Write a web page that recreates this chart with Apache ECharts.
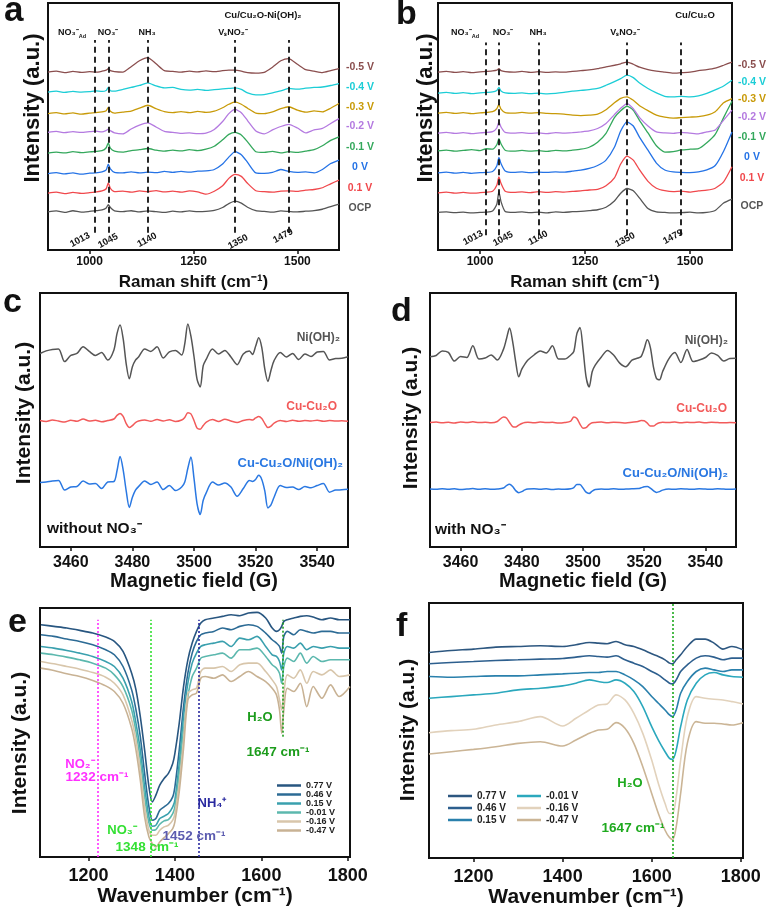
<!DOCTYPE html>
<html>
<head>
<meta charset="utf-8">
<script src="https://cdn.jsdelivr.net/npm/echarts@6.0.0/dist/echarts.min.js"></script>
<style>
  html, body { margin: 0; padding: 0; background: #fff; }
  #chart { width: 770px; height: 910px; }
</style>
</head>
<body>
<div id="chart"></div>
<script>
var FONT = 'Liberation Sans, Arial, sans-serif';

// ---------- a / b : in-situ Raman ----------
var ramanX = [900,920,940,960,980,1000,1015,1030,1040,1045,1050,1060,1080,1100,1120,1140,1160,1180,1200,1220,
              1240,1260,1280,1300,1320,1335,1350,1365,1380,1400,1420,1440,1460,1479,1500,1520,1540,1560,1580,1600];
var ramanNames = ['OCP', '0.1 V', '0 V', '-0.1 V', '-0.2 V', '-0.3 V', '-0.4 V', '-0.5 V'];
var ramanColors = ['#555555', '#f0484c', '#2573e6', '#34a85c', '#b47ae0', '#c89a08', '#1ccdd6', '#8a4e4e'];
var ramanPeaks = [1013, 1045, 1140, 1350, 1479];

var aOCP = [15.4,15.8,15.2,15.9,15.3,15.6,15.9,16.2,17.0,18.4,17.2,15.8,15.5,15.9,15.4,15.8,15.5,15.2,15.7,15.4,15.8,15.5,15.6,16.0,17.2,18.8,19.8,19.0,17.3,15.9,15.6,15.3,15.8,15.6,15.4,15.7,15.9,16.5,17.6,18.6];
var aP01 = [23.0,23.4,22.8,23.3,22.9,23.2,23.5,23.9,24.8,27.2,25.0,23.6,23.8,23.4,23.9,23.6,24.0,23.5,23.8,23.4,23.9,23.5,22.6,23.8,26.0,29.0,30.6,29.8,27.0,24.0,23.6,23.4,23.8,23.9,23.7,24.2,24.5,25.2,26.8,28.3];
var a00 = [30.9,31.3,30.8,31.2,30.7,31.1,31.2,31.6,32.4,34.8,32.8,31.4,31.2,31.6,31.2,31.5,31.3,31.8,31.4,31.8,31.5,31.9,32.0,32.6,34.8,37.6,39.8,38.6,35.5,31.2,31.0,31.4,32.6,31.8,31.4,31.6,31.2,32.6,35.0,36.4];
var aM01 = [39.2,39.6,39.3,39.8,39.4,39.7,39.9,40.2,41.4,43.4,41.2,40.0,39.6,40.2,40.6,41.1,40.4,40.0,40.4,40.1,40.6,40.2,40.8,42.0,44.6,46.8,47.6,46.6,43.8,39.8,39.5,39.9,39.3,39.8,39.5,40.0,40.6,42.2,44.4,45.8];
var aM02 = [47.6,48.0,47.5,47.9,47.6,47.9,48.1,47.8,48.4,48.9,48.3,47.4,47.0,49.0,50.6,51.5,49.8,48.0,47.6,47.2,47.4,47.1,47.3,48.8,52.0,55.2,56.9,55.6,52.4,48.2,47.0,48.6,50.0,50.9,49.4,47.4,48.6,49.2,51.2,53.2];
var aM03 = [55.2,55.6,55.1,55.5,55.0,55.4,55.6,55.9,56.4,57.7,56.2,55.4,55.8,56.2,57.4,58.6,57.2,56.0,55.6,56.0,55.6,56.1,55.7,56.2,57.6,59.0,60.0,59.0,57.4,55.4,55.2,55.9,57.2,58.0,56.6,55.8,56.3,55.9,57.4,59.3];
var aM04 = [63.9,64.3,63.8,64.2,63.9,64.1,64.4,64.2,64.6,65.8,64.5,64.3,65.0,65.8,66.6,67.7,66.4,65.6,65.8,65.0,64.7,65.0,64.6,64.9,65.2,65.4,65.6,65.0,63.6,62.8,62.9,63.6,64.4,65.4,65.1,65.5,65.8,66.0,66.6,67.4];
var aM05 = [72.0,72.4,71.8,72.3,71.9,72.2,72.0,72.4,72.8,73.4,72.6,72.2,72.0,74.2,76.6,77.9,75.4,72.6,72.3,72.0,72.4,72.1,72.5,72.2,72.6,72.8,72.8,72.4,71.8,71.6,71.9,74.0,76.6,77.5,75.2,73.0,72.4,71.8,72.6,73.4];

var bOCP = [15.2,15.4,15.1,15.3,15.0,15.2,15.3,15.8,18.5,23.6,19.6,15.6,15.2,15.4,15.1,15.3,15.0,15.4,15.2,15.5,15.6,15.9,16.3,17.3,19.8,23.0,24.9,24.0,21.0,16.8,15.4,15.2,15.0,15.1,15.3,15.0,15.2,16.0,19.0,20.6];
var bP01 = [23.1,23.4,23.0,23.3,23.0,23.2,23.4,23.8,26.2,29.6,27.0,23.8,23.3,23.5,23.2,23.6,23.3,23.6,23.4,23.7,23.9,24.3,24.5,26.0,29.2,34.8,38.0,36.4,32.4,27.8,25.0,24.0,23.6,23.8,23.4,23.9,24.2,25.0,27.6,33.7];
var b00 = [31.2,31.5,31.1,31.4,31.0,31.3,31.4,31.8,34.0,37.5,35.0,32.0,31.4,31.6,31.3,31.5,31.4,31.6,31.5,31.9,32.3,33.0,34.2,36.4,41.6,48.2,51.9,50.2,45.6,40.4,35.2,32.4,31.6,31.4,31.3,31.6,32.4,34.2,40.0,47.8];
var bM01 = [40.1,40.4,40.0,40.3,40.6,40.2,41.0,40.8,42.6,45.1,43.0,40.4,40.0,40.3,40.0,40.2,39.9,40.3,40.1,40.4,40.8,41.6,43.6,47.2,53.6,56.4,58.2,56.6,52.4,47.4,42.2,39.6,39.8,40.5,40.8,41.0,43.4,46.8,53.6,60.2];
var bM02 = [47.3,47.6,47.2,47.5,47.1,47.4,47.6,47.9,49.4,51.9,49.8,47.6,47.3,47.5,47.2,47.4,47.1,47.5,47.3,47.5,47.8,48.2,49.2,51.2,54.8,57.4,59.3,57.2,53.6,50.2,47.8,47.4,47.2,47.6,47.3,47.0,47.8,48.6,52.6,56.6];
var bM03 = [55.4,55.7,55.3,55.6,55.2,55.5,55.7,56.0,57.2,58.9,57.0,55.6,55.4,55.7,55.4,55.6,55.3,55.2,55.0,54.6,54.4,54.6,55.0,56.8,59.6,61.4,62.0,60.6,58.4,56.4,54.6,53.8,53.4,53.6,53.8,54.0,54.6,56.0,59.6,61.3];
var bM04 = [63.5,63.8,63.4,63.7,63.3,63.6,63.8,64.0,64.6,65.8,64.4,63.6,63.4,63.6,63.3,63.5,63.2,63.4,63.8,64.3,64.6,64.9,65.4,66.7,68.2,69.4,70.8,69.8,67.6,65.4,63.6,62.2,62.0,62.2,62.0,62.4,63.4,64.8,66.4,68.7];
var bM05 = [72.0,72.3,71.9,72.2,71.8,72.1,72.3,72.5,72.8,73.4,72.6,72.2,72.0,72.3,71.9,72.2,71.9,72.1,72.0,72.3,72.6,72.9,73.4,74.1,74.8,75.4,76.1,75.2,74.0,73.0,72.4,72.0,71.6,71.8,72.0,72.6,73.0,73.6,74.8,76.1];

// ---------- c / d : EPR ----------
var eprX = [3450,3452,3454,3456,3458,3460,3462,3464,3466,3468,3470,3472,3474,3475,3476,3477,3478,3479,3480,3481,
            3482,3484,3486,3488,3490,3492,3494,3496,3497,3498,3499,3500,3501,3502,3503,3504,3506,3508,3510,3512,
            3514,3516,3518,3519,3520,3521,3522,3523,3524,3525,3526,3528,3530,3532,3534,3536,3538,3540,3542,3544,
            3546,3548,3550];
var eprNames = ['Ni(OH)₂', 'Cu-Cu₂O', 'Cu-Cu₂O/Ni(OH)₂'];
var eprColors = ['#555555', '#f25a5a', '#2a78e2'];

var cNi = [76.2,77.2,77.8,78.0,73.0,75.4,76.2,78.8,77.0,75.4,76.6,73.6,77.6,84.0,87.4,82.0,72.0,66.2,71.0,73.6,
           74.8,78.0,77.0,78.8,74.4,76.8,77.4,75.6,80.0,87.8,83.0,75.0,66.0,63.0,71.4,74.0,78.0,76.0,77.4,74.8,
           71.8,76.0,77.2,75.8,79.0,82.4,78.6,70.0,65.2,69.6,73.4,76.6,74.8,76.2,73.8,76.0,75.0,76.8,77.0,73.6,
           74.2,74.3,74.9];
var cCu = [49.8,49.4,50.0,49.6,49.2,49.9,49.5,50.4,49.6,49.9,49.3,49.8,50.4,51.8,52.6,51.4,48.6,47.0,47.8,49.0,
           49.6,50.0,49.5,50.2,49.6,50.1,49.4,50.0,51.0,52.9,52.4,49.8,46.8,46.4,47.8,49.2,50.2,49.4,50.3,49.6,
           49.0,49.8,50.2,50.0,50.8,51.4,50.6,48.6,47.0,47.6,48.8,49.8,49.4,49.9,49.5,49.8,49.6,49.9,49.5,49.8,
           49.6,49.7,49.5];
var cCuNi = [25.4,25.6,26.0,26.2,22.4,23.6,23.8,26.0,24.8,25.0,23.0,25.6,25.8,30.0,35.6,30.4,22.0,15.6,19.6,22.4,
             23.8,26.0,24.6,25.6,22.6,24.2,22.2,23.6,25.6,31.0,35.4,27.0,17.0,12.8,18.4,21.4,25.6,24.4,25.2,23.6,
             20.0,23.0,26.2,25.8,26.6,28.2,26.6,22.0,15.4,16.6,19.6,24.2,23.4,23.6,22.6,23.8,23.3,24.2,25.0,21.6,
             22.4,22.5,22.7];
var dNi = [74.9,75.4,77.2,76.6,73.2,75.0,74.6,79.2,74.0,74.4,75.6,73.6,77.8,82.0,86.2,81.0,73.0,67.0,70.0,72.0,
           73.6,75.6,77.2,76.4,79.2,74.0,74.0,75.6,77.0,84.0,86.4,78.0,67.0,63.0,69.0,71.6,74.8,77.4,75.6,72.4,
           71.0,73.6,74.4,75.0,78.0,81.6,78.6,71.0,66.4,65.8,69.0,74.0,76.6,72.6,77.8,73.0,73.6,74.6,76.4,75.4,
           73.2,74.2,74.3];
var dCu = [49.0,49.2,48.9,49.1,48.8,49.2,49.0,49.3,49.0,49.1,48.9,49.4,51.2,50.8,49.0,47.4,47.2,48.0,48.6,49.0,
           49.1,48.9,49.2,49.0,49.1,48.8,49.0,49.6,51.2,50.6,48.4,46.8,47.0,48.2,48.9,49.0,49.2,48.9,49.1,49.0,
           48.8,49.1,49.4,49.8,49.7,48.8,47.6,47.6,48.4,48.9,49.1,49.0,49.2,48.9,49.1,49.0,49.2,48.9,49.1,49.0,
           48.9,49.0,48.9];
var dCuNi = [22.8,22.7,22.9,22.7,22.9,22.6,22.8,23.0,22.7,22.9,22.7,22.8,23.2,24.2,24.7,23.8,22.2,21.4,21.8,22.5,
             22.8,22.9,22.7,22.9,22.6,22.8,22.7,22.9,23.4,24.6,24.6,23.2,21.6,21.1,22.0,22.6,22.8,22.7,22.9,22.7,
             22.8,22.9,23.0,23.3,23.7,23.8,23.2,22.2,21.5,21.8,22.4,22.8,22.7,22.9,22.8,22.7,22.9,22.8,22.7,22.9,
             22.8,22.7,22.8];

// ---------- e / f : FTIR ----------
var ftirNames = ['0.77 V', '0.46 V', '0.15 V', '-0.01 V', '-0.16 V', '-0.47 V'];
var eColors = ['#285680', '#2c6b95', '#3aa0ae', '#5cb8ae', '#d8c6ab', '#c8b294'];
var fColors = ['#2d5780', '#2d5f8e', '#2a80ac', '#2ba8bd', '#e2d2bc', '#cbb596'];

var eX = [1090,1120,1150,1180,1210,1240,1260,1280,1300,1310,1320,1330,1340,1348,1356,1365,1375,1385,1395,1400,
          1410,1420,1430,1440,1450,1460,1470,1490,1510,1530,1550,1570,1590,1610,1625,1635,1642,1647,1652,1660,
          1675,1690,1705,1720,1740,1760,1780,1805];
var e077 = [69.5,69.0,68.5,67.8,67.0,65.8,64.5,61.5,55.0,50.0,42.0,32.0,21.0,16.5,18.5,21.5,23.5,25.0,28.0,31.0,
            40.0,51.0,59.0,64.0,67.5,70.0,71.0,71.5,72.0,72.5,72.2,73.0,73.2,71.5,68.5,67.5,68.0,69.0,70.5,71.0,
            71.5,72.0,72.2,71.8,71.0,71.5,71.0,71.0];
var e046 = [66.5,66.0,65.2,64.5,63.5,62.0,60.5,57.0,50.0,44.0,36.0,25.0,15.0,11.0,11.5,14.0,15.0,16.0,18.0,21.0,
            32.0,45.0,55.0,61.0,64.5,66.5,67.0,67.5,68.5,68.0,69.0,69.5,69.0,67.0,65.0,64.0,63.0,61.0,66.0,67.5,
            66.5,68.0,67.5,67.0,67.5,67.5,67.0,67.0];
var e015 = [63.0,62.5,61.8,61.0,60.0,58.5,57.0,53.5,46.5,40.0,32.0,21.0,12.0,9.2,9.5,11.5,12.2,13.0,15.0,17.0,
            28.0,42.0,52.0,58.0,61.0,63.0,63.5,64.0,64.5,63.0,65.5,65.0,66.0,63.0,60.5,60.0,58.5,56.0,61.0,63.0,
            62.5,64.0,62.0,63.0,62.5,63.0,62.5,62.5];
var eM001 = [61.0,60.5,59.8,59.0,58.0,56.5,54.5,51.0,44.0,37.5,29.0,18.0,10.2,8.0,8.2,9.8,10.8,11.2,13.0,15.0,
             25.0,38.0,48.0,54.0,56.5,59.5,60.0,60.5,61.0,59.5,62.0,62.0,62.5,60.0,57.5,56.5,55.0,52.0,57.0,59.5,
             58.5,61.0,58.0,60.0,58.5,59.0,59.0,59.0];
var eM016 = [58.5,57.8,57.0,56.2,55.2,53.8,52.0,48.5,41.0,35.0,26.0,15.0,8.0,6.5,6.5,8.0,9.0,9.5,11.0,13.0,
             22.0,35.0,49.0,50.0,50.5,55.5,56.5,56.5,57.0,55.5,57.5,58.0,58.0,55.5,53.0,51.0,47.0,44.0,49.0,54.5,
             53.5,56.0,52.0,55.5,54.5,56.0,54.0,54.5];
var eM047 = [56.5,55.8,54.8,54.0,52.8,51.2,49.5,46.0,38.5,32.0,23.0,12.0,6.0,4.0,3.0,4.5,5.8,7.0,8.5,10.5,
             19.5,32.5,47.0,48.5,49.0,53.5,54.0,53.5,54.5,52.5,54.0,55.5,54.0,52.5,50.5,48.5,44.0,37.0,44.0,50.5,
             49.5,52.0,45.0,51.0,47.5,51.5,48.0,51.0];

var fX = [1100,1150,1200,1250,1300,1350,1400,1430,1460,1480,1500,1520,1540,1560,1580,1600,1615,1630,1640,1647,
          1655,1665,1680,1700,1720,1740,1760,1780,1805];
var f077 = [61.5,62.1,62.5,63.1,63.3,63.5,63.3,63.8,64.5,64.3,64.1,64.8,63.8,63.3,62.3,61.1,60.3,59.3,58.3,58.1,
            59.3,60.8,63.3,65.5,65.5,64.3,62.5,63.3,62.3];
var f046 = [58.1,58.5,58.8,59.1,59.3,59.5,59.7,60.1,60.5,60.3,60.1,60.5,59.3,58.3,57.3,55.8,54.8,53.3,52.3,52.1,
            53.3,55.8,57.8,59.8,60.5,60.1,59.3,59.8,59.8];
var f015 = [54.3,54.1,54.3,54.5,54.5,54.8,55.1,55.3,55.5,55.5,55.8,55.8,54.8,53.3,51.3,48.3,46.3,44.3,42.8,42.3,
            44.3,49.3,52.8,55.8,56.8,56.3,55.8,56.3,56.3];
var fM001 = [47.8,48.3,48.8,49.3,50.3,50.8,51.5,52.3,53.3,52.8,52.5,53.3,52.3,49.8,45.3,39.3,35.3,31.8,29.8,29.5,
             32.3,39.3,47.3,52.3,54.8,55.5,54.8,54.3,54.1];
var fM016 = [37.5,38.1,38.5,39.8,40.8,42.3,39.5,41.8,44.3,45.8,46.1,48.8,47.3,43.3,37.3,29.3,22.3,16.3,13.3,13.3,
             18.3,29.3,42.3,48.3,47.8,47.5,47.3,46.8,46.1];
var fM047 = [31.1,31.8,32.5,33.3,34.3,34.8,33.5,35.3,37.3,38.3,38.5,40.5,38.8,34.3,27.3,19.3,13.3,8.3,6.1,5.5,
             9.3,19.3,34.3,40.8,40.3,40.3,40.1,39.8,40.5];

// ---------- build ----------
var series = [];
function addLines(gi, prefix, xs, names, colors, rows, width, smooth) {
  var first = series.length;
  rows.forEach(function (ys, i) {
    series.push({
      name: prefix + names[i], type: 'line', xAxisIndex: gi, yAxisIndex: gi,
      symbol: 'none', smooth: smooth, silent: true,
      lineStyle: { color: colors[i], width: width }, itemStyle: { color: colors[i] },
      data: xs.map(function (x, k) { return [x, ys[k]]; })
    });
  });
  return series[first];
}
function vLines(items, type, width) {
  return {
    symbol: 'none', silent: true, animation: false, label: { show: false },
    lineStyle: { type: type, width: width, color: '#111', opacity: 1 },
    data: items.map(function (it) {
      return [{ coord: [it[0], it[1]], lineStyle: { color: it[3] || '#111' } }, { coord: [it[0], it[2]] }];
    })
  };
}

var sa = addLines(0, 'a', ramanX, ramanNames, ramanColors, [aOCP, aP01, a00, aM01, aM02, aM03, aM04, aM05], 1.3, 0.2);
sa.markLine = vLines(ramanPeaks.map(function (p) { return [p, 7, 85]; }), [6, 4], 1.8);
var sb = addLines(1, 'b', ramanX, ramanNames, ramanColors, [bOCP, bP01, b00, bM01, bM02, bM03, bM04, bM05], 1.3, 0.2);
sb.markLine = vLines(ramanPeaks.map(function (p) { return [p, 6, 84]; }), [6, 4], 1.8);
addLines(2, 'c', eprX, eprNames, eprColors, [cNi, cCu, cCuNi], 1.5, 0.3);
addLines(3, 'd', eprX, eprNames, eprColors, [dNi, dCu, dCuNi], 1.5, 0.3);
var se = addLines(4, 'e', eX, ftirNames, eColors, [e077, e046, e015, eM001, eM016, eM047], 1.6, 0.3);
se.markLine = vLines([[1222, 0, 71, '#ff30ff'], [1345, 0, 71, '#33e033'], [1455, 0, 71, '#2a2aa0'], [1649, 36, 71, '#1c9c1c']], [2, 2], 1.6);
var sf = addLines(5, 'f', fX, ftirNames, fColors, [f077, f046, f015, fM001, fM016, fM047], 1.6, 0.3);
sf.markLine = vLines([[1648, 0, 76.3, '#1faa1f']], [2, 2], 1.6);

var grids = [
  { left: 48, top: 3, width: 291, height: 247 },
  { left: 438, top: 3, width: 294, height: 247 },
  { left: 40, top: 293, width: 308, height: 254 },
  { left: 430, top: 293, width: 306, height: 254 },
  { left: 40, top: 608, width: 310, height: 249 },
  { left: 429, top: 603, width: 314, height: 255 }
].map(function (g) {
  g.show = true; g.borderColor = '#111'; g.borderWidth = 2; g.backgroundColor = 'transparent';
  return g;
});

function xAxis(gi, min, max, ticks, name, tickSize, nameSize, margin, gap) {
  return {
    type: 'value', gridIndex: gi, min: min, max: max,
    name: name, nameLocation: 'middle', nameGap: gap,
    nameTextStyle: { fontFamily: FONT, fontWeight: 'bold', fontSize: nameSize, color: '#111' },
    splitLine: { show: false },
    axisLine: { show: true, lineStyle: { color: '#111', width: 2 } },
    axisTick: { show: true, customValues: ticks, length: 4, lineStyle: { color: '#111', width: 1.5 } },
    axisLabel: {
      customValues: ticks, margin: margin, fontFamily: FONT, fontWeight: 'bold', fontSize: tickSize, color: '#111',
      formatter: function (v) { return String(v); }
    }
  };
}
function yAxis(gi, max) {
  return {
    type: 'value', gridIndex: gi, min: 0, max: max,
    axisLine: { show: false }, axisTick: { show: false }, axisLabel: { show: false }, splitLine: { show: false }
  };
}

var ramanTicks = [1000, 1250, 1500];
var eprTicks = [3460, 3480, 3500, 3520, 3540];
var ftirTicks = [1200, 1400, 1600, 1800];

var xAxes = [
  xAxis(0, 900, 1600, ramanTicks, 'Raman shift (cm⁻¹)', 12, 17, 6, 24),
  xAxis(1, 900, 1600, ramanTicks, 'Raman shift (cm⁻¹)', 12, 17, 6, 24),
  xAxis(2, 3450, 3550, eprTicks, 'Magnetic field (G)', 16, 20, 8, 23),
  xAxis(3, 3450, 3550, eprTicks, 'Magnetic field (G)', 16, 20, 8, 23),
  xAxis(4, 1088, 1805, ftirTicks, 'Wavenumber (cm⁻¹)', 18, 21, 10, 27),
  xAxis(5, 1100, 1805, ftirTicks, 'Wavenumber (cm⁻¹)', 18, 21, 10, 27)
];
var yAxes = [yAxis(0, 100), yAxis(1, 100), yAxis(2, 100), yAxis(3, 100), yAxis(4, 74.5), yAxis(5, 76.3)];

// ---------- text ----------
function T(x, y, text, o) {
  o = o || {};
  return {
    type: 'text', x: x, y: y, rotation: o.rot || 0, silent: true, z: 100,
    style: {
      text: text, fill: o.color || '#111', fontFamily: FONT, fontWeight: 'bold', fontSize: o.size || 11,
      textAlign: o.align || 'center', textVerticalAlign: o.va || 'middle', rich: o.rich
    }
  };
}
var subRich = {
  m: { fontFamily: FONT, fontWeight: 'bold', fontSize: 9, fill: '#111', lineHeight: 12 },
  s: { fontFamily: FONT, fontWeight: 'bold', fontSize: 5.5, fill: '#111', lineHeight: 12, verticalAlign: 'bottom' }
};

var graphics = [
  T(4, 29, 'a', { size: 35, align: 'left', va: 'bottom' }),
  T(396, 32, 'b', { size: 34, align: 'left', va: 'bottom' }),
  T(3, 320, 'c', { size: 34, align: 'left', va: 'bottom' }),
  T(391, 329, 'd', { size: 34, align: 'left', va: 'bottom' }),
  T(8, 640, 'e', { size: 34, align: 'left', va: 'bottom' }),
  T(396, 644, 'f', { size: 34, align: 'left', va: 'bottom' }),

  T(33, 108, 'Intensity (a.u.)', { size: 22, rot: Math.PI / 2 }),
  T(426, 108, 'Intensity (a.u.)', { size: 22, rot: Math.PI / 2 }),
  T(24, 413, 'Intensity (a.u.)', { size: 21, rot: Math.PI / 2 }),
  T(411, 418, 'Intensity (a.u.)', { size: 21, rot: Math.PI / 2 }),
  T(20, 743, 'Intensity (a.u.)', { size: 21, rot: Math.PI / 2 }),
  T(408, 730, 'Intensity (a.u.)', { size: 21, rot: Math.PI / 2 }),

  // a annotations
  T(263, 15, 'Cu/Cu₂O-Ni(OH)₂', { size: 9.5 }),
  T(72, 33, '{m|NO₃⁻}{s|Ad}', { rich: subRich }),
  T(108, 33, 'NO₃⁻', { size: 9 }),
  T(147, 33, 'NH₃', { size: 9 }),
  T(233, 33, 'VₛNO₂⁻', { size: 9 }),
  T(80, 240, '1013', { size: 9.5, rot: 0.5 }),
  T(108, 241, '1045', { size: 9.5, rot: 0.5 }),
  T(147, 240, '1140', { size: 9.5, rot: 0.5 }),
  T(238, 242, '1350', { size: 9.5, rot: 0.5 }),
  T(283, 236, '1479', { size: 9.5, rot: 0.5 }),
  // b annotations
  T(695, 15, 'Cu/Cu₂O', { size: 9.5 }),
  T(465, 33, '{m|NO₃⁻}{s|Ad}', { rich: subRich }),
  T(503, 33, 'NO₃⁻', { size: 9 }),
  T(538, 33, 'NH₃', { size: 9 }),
  T(625, 33, 'VₛNO₂⁻', { size: 9 }),
  T(473, 238, '1013', { size: 9.5, rot: 0.5 }),
  T(503, 239, '1045', { size: 9.5, rot: 0.5 }),
  T(538, 238, '1140', { size: 9.5, rot: 0.5 }),
  T(625, 240, '1350', { size: 9.5, rot: 0.5 }),
  T(673, 237, '1479', { size: 9.5, rot: 0.5 }),

  // c / d annotations
  T(340, 338, 'Ni(OH)₂', { size: 12, align: 'right', color: '#555555' }),
  T(337, 407, 'Cu-Cu₂O', { size: 12, align: 'right', color: '#f25a5a' }),
  T(343, 463, 'Cu-Cu₂O/Ni(OH)₂', { size: 13, align: 'right', color: '#2a78e2' }),
  T(47, 529, 'without NO₃⁻', { size: 15.5, align: 'left' }),
  T(728, 341, 'Ni(OH)₂', { size: 12, align: 'right', color: '#555555' }),
  T(727, 409, 'Cu-Cu₂O', { size: 12, align: 'right', color: '#f25a5a' }),
  T(728, 473, 'Cu-Cu₂O/Ni(OH)₂', { size: 13, align: 'right', color: '#2a78e2' }),
  T(435, 530, 'with NO₃⁻', { size: 15.5, align: 'left' }),

  // e annotations
  T(80, 764, 'NO₂⁻', { size: 13, color: '#ff30ff' }),
  T(97, 777, '1232 cm⁻¹', { size: 13.5, color: '#ff30ff' }),
  T(122, 830, 'NO₃⁻', { size: 13, color: '#33e033' }),
  T(147, 847, '1348 cm⁻¹', { size: 13.5, color: '#33e033' }),
  T(212, 803, 'NH₄⁺', { size: 13, color: '#2a2aa0' }),
  T(194, 836, '1452 cm⁻¹', { size: 13.5, color: '#5c5cb0' }),
  T(260, 717, 'H₂O', { size: 13, color: '#1c9c1c' }),
  T(278, 752, '1647 cm⁻¹', { size: 13.5, color: '#1c9c1c' }),
  // f annotations
  T(630, 783, 'H₂O', { size: 13, color: '#1faa1f' }),
  T(633, 828, '1647 cm⁻¹', { size: 13.5, color: '#1faa1f' })
];

var aLabelY = [208, 188, 167, 147, 126, 107, 87, 67];
var bLabelY = [206, 178, 157, 137, 117, 99, 82, 65];
ramanNames.forEach(function (n, i) {
  graphics.push(T(360, aLabelY[i], n, { size: 10.5, color: ramanColors[i] }));
  graphics.push(T(752, bLabelY[i], n, { size: 10.5, color: ramanColors[i] }));
});

function legend(prefix, names, left, top, size, lh, gap) {
  return {
    orient: 'vertical', left: left, top: top, padding: 0, itemGap: gap,
    icon: 'rect', itemWidth: 24, itemHeight: 2.5, selectedMode: false,
    data: names.map(function (n) { return prefix + n; }),
    formatter: function (n) { return n.slice(1); },
    textStyle: { fontFamily: FONT, fontWeight: 'bold', fontSize: size, lineHeight: lh, color: '#222' }
  };
}

var chart = echarts.init(document.getElementById('chart'), null, { renderer: 'canvas' });
chart.setOption({
  animation: false,
  backgroundColor: '#fff',
  grid: grids,
  xAxis: xAxes,
  yAxis: yAxes,
  legend: [
    legend('e', ftirNames, 277, 781, 9, 7.6, 0),
    legend('f', ftirNames.slice(0, 3), 448, 791, 10, 10, 2),
    legend('f', ftirNames.slice(3), 517, 791, 10, 10, 2)
  ],
  series: series,
  graphic: graphics
});
</script>
</body>
</html>
